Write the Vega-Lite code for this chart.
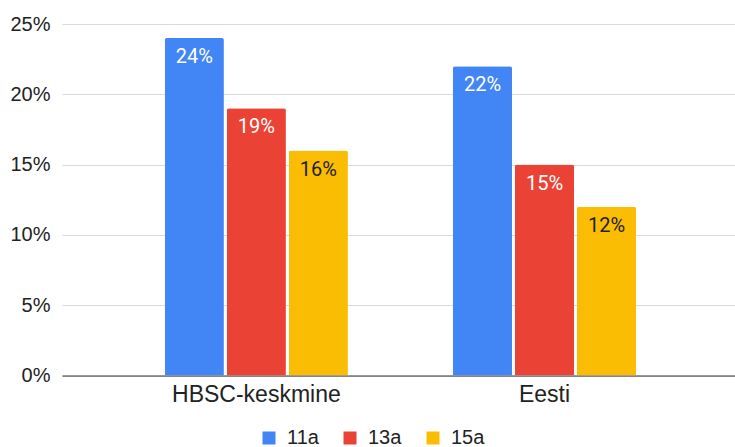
{
  "$schema": "https://vega.github.io/schema/vega-lite/v6.json",
  "width": 673,
  "height": 351.5,
  "autosize": "none",
  "padding": {"left": 62, "top": 24, "right": 0, "bottom": 71.5},
  "background": "white",
  "data": {
    "values": [
      {"group": "HBSC-keskmine", "age": "11a", "value": 0.24},
      {"group": "HBSC-keskmine", "age": "13a", "value": 0.19},
      {"group": "HBSC-keskmine", "age": "15a", "value": 0.16},
      {"group": "Eesti", "age": "11a", "value": 0.22},
      {"group": "Eesti", "age": "13a", "value": 0.15},
      {"group": "Eesti", "age": "15a", "value": 0.12}
    ]
  },
  "config": {
    "view": {"stroke": null},
    "font": "Liberation Sans"
  },
  "encoding": {
    "x": {
      "field": "group",
      "type": "nominal",
      "sort": ["HBSC-keskmine", "Eesti"],
      "title": null,
      "scale": {"paddingInner": 0, "paddingOuter": 0.168, "align": 0.52},
      "axis": {
        "labelAngle": 0,
        "labelFont": "Liberation Sans",
        "labelFontSize": 23,
        "labelColor": "#222222",
        "labelPadding": 8,
        "ticks": false,
        "domainColor": "#333333",
        "domainWidth": 1
      }
    },
    "xOffset": {
      "field": "age",
      "type": "nominal",
      "sort": ["11a", "13a", "15a"],
      "scale": {"paddingInner": 0.048, "paddingOuter": 0.847}
    },
    "y": {
      "field": "value",
      "type": "quantitative",
      "title": null,
      "scale": {"domain": [0, 0.25], "nice": false},
      "axis": {
        "format": ".0%",
        "values": [0, 0.05, 0.1, 0.15, 0.2, 0.25],
        "domain": false,
        "ticks": false,
        "labelFont": "Liberation Sans",
        "labelFontSize": 20,
        "labelColor": "#222222",
        "labelPadding": 12,
        "gridColor": "#d9d9d9",
        "gridWidth": 1
      }
    }
  },
  "layer": [
    {
      "mark": {"type": "bar", "cornerRadiusTopLeft": 2, "cornerRadiusTopRight": 2},
      "encoding": {
        "color": {
          "field": "age",
          "type": "nominal",
          "sort": ["11a", "13a", "15a"],
          "scale": {"domain": ["11a", "13a", "15a"], "range": ["#4285F4", "#EA4335", "#FBBC04"]},
          "legend": {
            "title": null,
            "orient": "none",
            "direction": "horizontal",
            "legendX": 197,
            "legendY": 404,
            "symbolType": "square",
            "symbolSize": 169,
            "symbolStrokeWidth": 0,
            "labelFont": "Liberation Sans",
            "labelFontSize": 20,
            "labelColor": "#222222",
            "labelOffset": 8,
            "columnPadding": 21
          }
        }
      }
    },
    {
      "mark": {"type": "text", "font": "Roboto", "fontSize": 20, "baseline": "alphabetic", "dy": 25},
      "encoding": {
        "text": {"field": "value", "type": "quantitative", "format": ".0%"},
        "color": {
          "condition": {"test": "datum.age === '15a'", "value": "#222222"},
          "value": "#ffffff"
        }
      }
    }
  ]
}
